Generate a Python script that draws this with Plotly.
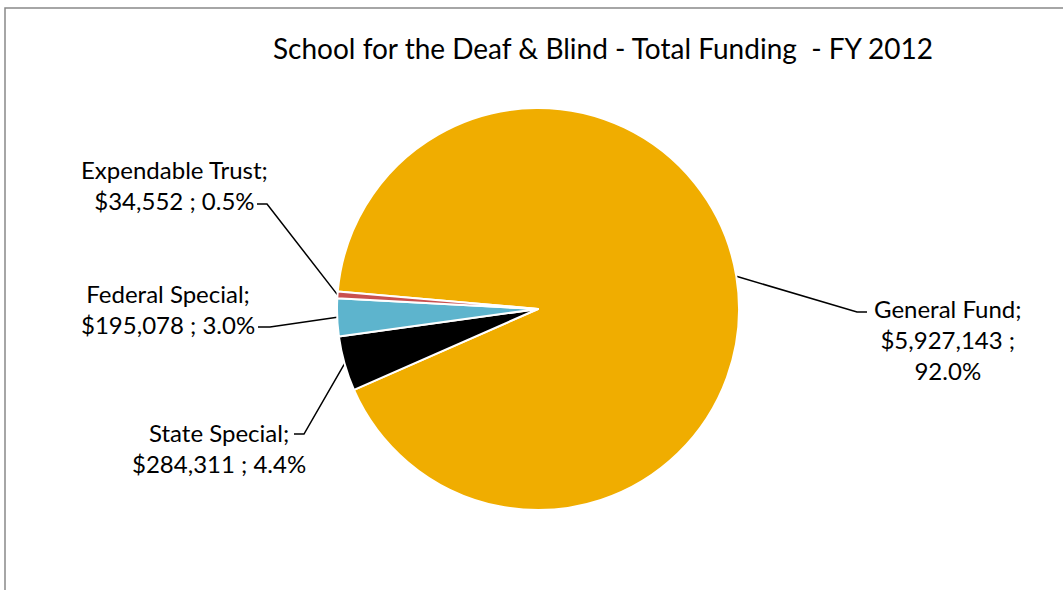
import numpy as np
import plotly.graph_objects as go

# Funding sources, FY 2012
categories = ["General Fund", "State Special", "Federal Special", "Expendable Trust"]
amounts = [5927143, 284311, 195078, 34552]
colors = ["#F0AD00", "#000000", "#5DB4CD", "#C9504F"]

W, H = 1063, 590
CX, CY, R = 538, 309, 201          # pie centre and radius in pixels
ROTATION = 275                      # start angle of first slice, clockwise from 12 o'clock

FONT = "Lato"
LABEL_SIZE = 24

# label block centres and leader-line elbows (pixels)
label_pos = {
    "General Fund": (948, 339),
    "State Special": (219, 448),
    "Federal Special": (168, 309),
    "Expendable Trust": (174, 185),
}
elbows = {
    "General Fund": [(857, 312), (867, 312)],
    "State Special": [(304, 434), (294, 434)],
    "Federal Special": [(270, 327), (258, 327)],
    "Expendable Trust": [(267, 204), (257, 204)],
}

total = sum(amounts)
shares = [a / total for a in amounts]

fig = go.Figure()

fig.add_trace(go.Pie(
    labels=categories,
    values=amounts,
    sort=False,
    direction="clockwise",
    rotation=ROTATION,
    marker=dict(colors=colors, line=dict(color="white", width=2)),
    textinfo="none",
    hoverinfo="label+value+percent",
    showlegend=False,
    domain=dict(x=[(CX - R) / W, (CX + R) / W], y=[(H - CY - R) / H, (H - CY + R) / H]),
))

# leader lines start at each slice's mid-angle on the rim
start = ROTATION
for name, a, s in zip(categories, amounts, shares):
    mid = np.deg2rad(start + s * 360 / 2)
    start += s * 360
    px = CX + R * np.sin(mid)
    py = CY - R * np.cos(mid)
    pts = [(px, py)] + elbows[name]
    fig.add_trace(go.Scatter(
        x=[p[0] for p in pts], y=[p[1] for p in pts],
        mode="lines", line=dict(color="black", width=1.5),
        hoverinfo="skip", showlegend=False,
    ))

annotations = []
for name, a, s in zip(categories, amounts, shares):
    if name == "General Fund":
        txt = f"{name};<br>${a:,.0f} ;<br>{s * 100:.1f}%"
    else:
        txt = f"{name};<br>${a:,.0f} ; {s * 100:.1f}%"
    x, y = label_pos[name]
    annotations.append(dict(
        x=x, y=y, xref="x", yref="y", text=txt, showarrow=False,
        align="center", xanchor="center", yanchor="middle",
        font=dict(family=FONT, size=LABEL_SIZE, color="black"),
    ))

annotations.append(dict(
    x=603, y=48, xref="x", yref="y",
    text="School for the Deaf &amp; Blind - Total Funding  - FY 2012",
    showarrow=False, xanchor="center", yanchor="middle",
    font=dict(family=FONT, size=28, color="black"),
))

fig.update_layout(
    width=W, height=H,
    margin=dict(l=0, r=0, t=0, b=0),
    paper_bgcolor="white", plot_bgcolor="rgba(0,0,0,0)",
    xaxis=dict(range=[0, W], visible=False, fixedrange=True, domain=[0, 1]),
    yaxis=dict(range=[H, 0], visible=False, fixedrange=True, domain=[0, 1]),
    annotations=annotations,
    shapes=[dict(type="rect", xref="x", yref="y", x0=5, y0=8, x1=W + 20, y1=H + 20,
                 line=dict(color="#898989", width=1.5))],
)

fig.write_html("out.html")
